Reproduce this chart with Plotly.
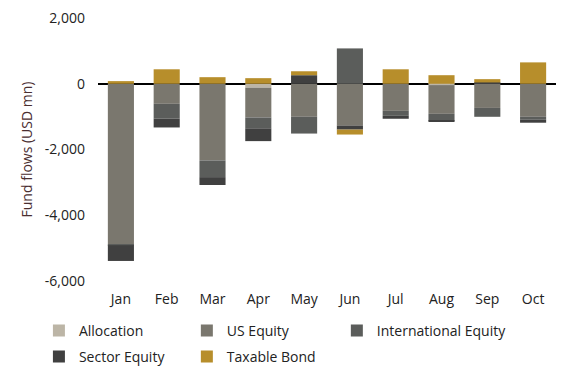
import plotly.graph_objects as go

months = ["Jan", "Feb", "Mar", "Apr", "May", "Jun", "Jul", "Aug", "Sep", "Oct"]
allocation = [0, 0, 0, -120, 0, 0, 0, -40, 0, 0]
us_equity = [-4890, -610, -2330, -905, -1005, -1275, -825, -875, -735, -1005]
intl_equity = [-20, -450, -510, -330, -510, 1075, -150, -210, -270, -90]
sector_equity = [-480, -270, -240, -390, 260, -120, -90, -30, 40, -90]
taxable_bond = [80, 440, 200, 170, 120, -150, 440, 260, 100, 650]

series = [
    ("Allocation", allocation, "#bcb5a6", "legend"),
    ("US Equity", us_equity, "#7a776e", "legend2"),
    ("International Equity", intl_equity, "#5b5d5b", "legend3"),
    ("Sector Equity", sector_equity, "#404040", "legend"),
    ("Taxable Bond", taxable_bond, "#b78e2b", "legend2"),
]

ytick_vals = [-6000, -4000, -2000, 0, 2000]
ytick_text = ["-6,000", "-4,000", "-2,000", "0", "2,000"]

fig = go.Figure()
for name, vals, color, leg in series:
    fig.add_trace(go.Bar(x=months, y=vals, name=name, legend=leg, legendgroup=name,
                         marker=dict(color=color, line=dict(width=0))))

font_family = "Open Sans, Noto Sans, sans-serif"
legend_y = -0.1285


def legend_at(xpos):
    return dict(
        orientation="v",
        x=xpos, xanchor="left",
        y=legend_y, yanchor="top",
        traceorder="grouped",
        tracegroupgap=5,
        font=dict(size=14, color="#222222"),
        bgcolor="rgba(0,0,0,0)",
    )


# the page body adds an 8px offset, so the figure is sized/margined to compensate
fig.update_layout(
    width=563, height=368,
    barmode="relative",
    bargap=0.43,
    plot_bgcolor="white", paper_bgcolor="white",
    margin=dict(l=90, r=15, t=10, b=95, autoexpand=False),
    font=dict(family=font_family, size=14, color="#222222"),
    legend=legend_at(-0.129),
    legend2=legend_at(0.194),
    legend3=legend_at(0.5215),
    xaxis=dict(
        showgrid=False, showline=False, ticks="",
        ticklabelstandoff=8, automargin=False,
    ),
    yaxis=dict(
        range=[-6000, 2000],
        tickvals=ytick_vals, ticktext=ytick_text,
        showgrid=False, showline=False, ticks="",
        zeroline=True, zerolinecolor="black", zerolinewidth=2,
        layer="above traces", automargin=False,
        ticklabelstandoff=12, ticklabeloverflow="allow",
        title=dict(text="Fund flows (USD mn)", standoff=8,
                   font=dict(size=14, color="#4a2e30")),
    ),
)

fig.write_html("out.html")
